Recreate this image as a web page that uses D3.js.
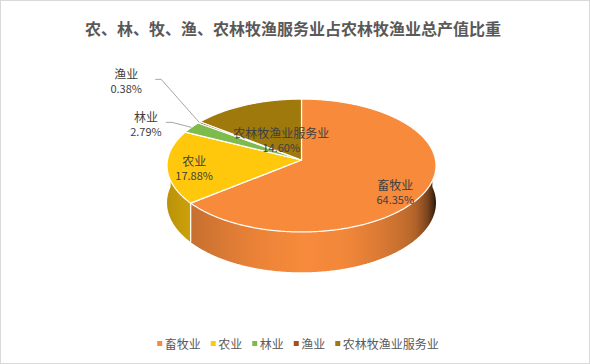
<!DOCTYPE html>
<html>
<head>
<meta charset="utf-8">
<script src="https://cdn.jsdelivr.net/npm/d3@7"></script>
<style>
  body { margin: 0; background: #fff; }
  text { font-family: "Noto Sans CJK SC", "Noto Sans", sans-serif; }
</style>
</head>
<body>
<div id="chart"></div>
<script>
const title = "农、林、牧、渔、农林牧渔服务业占农林牧渔业总产值比重";
const categories = ["畜牧业", "农业", "林业", "渔业", "农林牧渔业服务业"];
const shares = [64.35, 17.88, 2.79, 0.38, 14.6];
const colors = ["#F78A3B", "#FFC80D", "#7DBB4D", "#A5501A", "#9F790B"];

const width = 590;
const height = 364;

// pie geometry (perspective view of a flat cylinder)
const cx = 301.5;
const cy = 160;
const R = 134;
const A = 66;
const H = 37;
const persp = 0.083;

// label placement: inside labels by radius along the mid angle,
// outside labels offset from the slice edge with a leader line
const labelLayout = {
  "畜牧业": { r: 0.78, dx: -3, dy: 8 },
  "农业": { r: 0.8, dx: 0, dy: 2 },
  "农林牧渔业服务业": { r: 0.35, dx: 0, dy: 0 },
  "林业": { outside: true, dx: -45.5, dy: -4, lineEnd: 20 },
  "渔业": { outside: true, dx: -73, dy: -42, lineEnd: 29 },
};

// side-wall lighting by horizontal position of the normal (sin of angle)
const shade = d3
  .scaleLinear()
  .domain([-1, -0.8, -0.3, 0, 0.3, 0.6, 0.8, 0.9, 0.96, 1])
  .range([0.72, 0.8, 0.95, 1, 0.98, 0.86, 0.74, 0.52, 0.3, 0.08])
  .clamp(true);

const project = (a, r, z) => {
  const u = r * Math.sin(a);
  const v = -r * Math.cos(a);
  const k = 1 / (1 - persp * v);
  return [cx + R * u * k, cy + A * v * k + H * z * k];
};

const data = categories.map((name, i) => ({
  name,
  value: shares[i],
  color: colors[i],
}));

const pie = d3
  .pie()
  .sort(null)
  .value((d) => d.value);
const arcs = pie(data);

const svg = d3
  .select("#chart")
  .append("svg")
  .attr("width", width)
  .attr("height", height);

const defs = svg.append("defs");

svg
  .append("rect")
  .attr("x", 0.5)
  .attr("y", 0.5)
  .attr("width", width - 1)
  .attr("height", height - 1)
  .attr("fill", "#fff")
  .attr("stroke", "#D9D9D9");

svg
  .append("text")
  .attr("x", width / 2 - 2)
  .attr("y", 28)
  .attr("text-anchor", "middle")
  .attr("dominant-baseline", "central")
  .style("font-size", "16px")
  .style("font-weight", "bold")
  .attr("fill", "#595959")
  .text(title);

const line = d3.line();

// horizontal gradients for the front wall
const frontAngles = d3.range(0, 181, 5).map((d) => ((90 + d) * Math.PI) / 180);
const xs = frontAngles.map((a) => project(a, 1, 0)[0]);
const xMin = d3.min(xs);
const xMax = d3.max(xs);

arcs.forEach((d, i) => {
  const base = d3.rgb(d.data.color);
  const grad = defs
    .append("linearGradient")
    .attr("id", `side-${i}`)
    .attr("gradientUnits", "userSpaceOnUse")
    .attr("x1", xMin)
    .attr("x2", xMax)
    .attr("y1", 0)
    .attr("y2", 0);
  frontAngles
    .slice()
    .reverse()
    .forEach((a) => {
      const f = shade(Math.sin(a));
      grad
        .append("stop")
        .attr("offset", (project(a, 1, 0)[0] - xMin) / (xMax - xMin))
        .attr("stop-color", d3.rgb(base.r * f, base.g * f, base.b * f).formatHex());
    });
});

// visible wall segments (front half, slightly widened)
const visLo = Math.PI / 2 - 0.15;
const visHi = (3 * Math.PI) / 2 + 0.15;
const walls = arcs
  .map((d, i) => {
    const a0 = Math.max(d.startAngle, visLo);
    const a1 = Math.min(d.endAngle, visHi);
    return { i, a0, a1 };
  })
  .filter((w) => w.a1 > w.a0);

const wallPath = (w) => {
  const n = Math.max(2, Math.ceil((w.a1 - w.a0) / (Math.PI / 360)));
  const top = [];
  const bottom = [];
  for (let j = 0; j <= n; j++) {
    const a = w.a0 + ((w.a1 - w.a0) * j) / n;
    top.push(project(a, 1, 0));
    bottom.push(project(a, 1, 1));
  }
  return line(top.concat(bottom.reverse())) + "Z";
};

const sideGroup = svg.append("g");
sideGroup
  .selectAll("path")
  .data(walls)
  .join("path")
  .attr("d", wallPath)
  .attr("fill", (d) => `url(#side-${d.i})`);

// white seams where slices meet on the visible wall
sideGroup
  .selectAll("line")
  .data(arcs.filter((d) => d.startAngle > Math.PI / 2 && d.startAngle < (3 * Math.PI) / 2))
  .join("line")
  .attr("x1", (d) => project(d.startAngle, 1, 0)[0])
  .attr("y1", (d) => project(d.startAngle, 1, 0)[1])
  .attr("x2", (d) => project(d.startAngle, 1, 1)[0])
  .attr("y2", (d) => project(d.startAngle, 1, 1)[1])
  .attr("stroke", "#fff")
  .attr("stroke-width", 1.2);

// top face
const topPath = (d) => {
  const n = Math.max(2, Math.ceil((d.endAngle - d.startAngle) / (Math.PI / 360)));
  const pts = [[cx, cy]];
  for (let j = 0; j <= n; j++) {
    pts.push(project(d.startAngle + ((d.endAngle - d.startAngle) * j) / n, 1, 0));
  }
  return line(pts) + "Z";
};

svg
  .append("g")
  .selectAll("path")
  .data(arcs)
  .join("path")
  .attr("d", topPath)
  .attr("fill", (d) => d.data.color)
  .attr("stroke", "#fff")
  .attr("stroke-width", 1.2)
  .attr("stroke-linejoin", "round");

// data labels
const labelGroup = svg.append("g");
arcs.forEach((d) => {
  const lay = labelLayout[d.data.name];
  const mid = (d.startAngle + d.endAngle) / 2;
  let x;
  let y;
  if (lay.outside) {
    const edge = project(mid, 1, 0);
    x = edge[0] + lay.dx;
    y = edge[1] + lay.dy;
    const endX = x + lay.lineEnd;
    labelGroup
      .append("path")
      .attr("d", line([edge, [endX + 6, y - 1], [endX, y - 1]]))
      .attr("fill", "none")
      .attr("stroke", "#A6A6A6")
      .attr("stroke-width", 1);
  } else {
    const p = project(mid, lay.r, 0);
    x = p[0] + lay.dx;
    y = p[1] + lay.dy;
  }
  const t = labelGroup
    .append("text")
    .attr("x", x)
    .attr("text-anchor", "middle")
    .attr("fill", "#404040");
  t.append("tspan")
    .attr("x", x)
    .attr("y", y - 7)
    .attr("dominant-baseline", "central")
    .style("font-size", "12px")
    .text(d.data.name);
  t.append("tspan")
    .attr("x", x)
    .attr("y", y + 7.5)
    .attr("dominant-baseline", "central")
    .style("font-size", "11px")
    .text(d3.format(".2f")(d.data.value) + "%");
});

// legend
const legend = svg.append("g");
const items = legend
  .selectAll("g")
  .data(data)
  .join("g");
items
  .append("rect")
  .attr("y", 341)
  .attr("width", 5)
  .attr("height", 5)
  .attr("fill", (d) => d.color);
items
  .append("text")
  .attr("x", 7.5)
  .attr("y", 343.5)
  .attr("dominant-baseline", "central")
  .style("font-size", "12px")
  .attr("fill", "#595959")
  .text((d) => d.name);

let offset = 0;
const offsets = [];
items.each(function () {
  offsets.push(offset);
  const w = d3.select(this).select("text").node().getComputedTextLength();
  offset += 7.5 + w + 10;
});
const total = offset - 10;
const startX = width / 2 + 3 - total / 2;
items.attr("transform", (d, i) => `translate(${startX + offsets[i]}, 0)`);
</script>
</body>
</html>
